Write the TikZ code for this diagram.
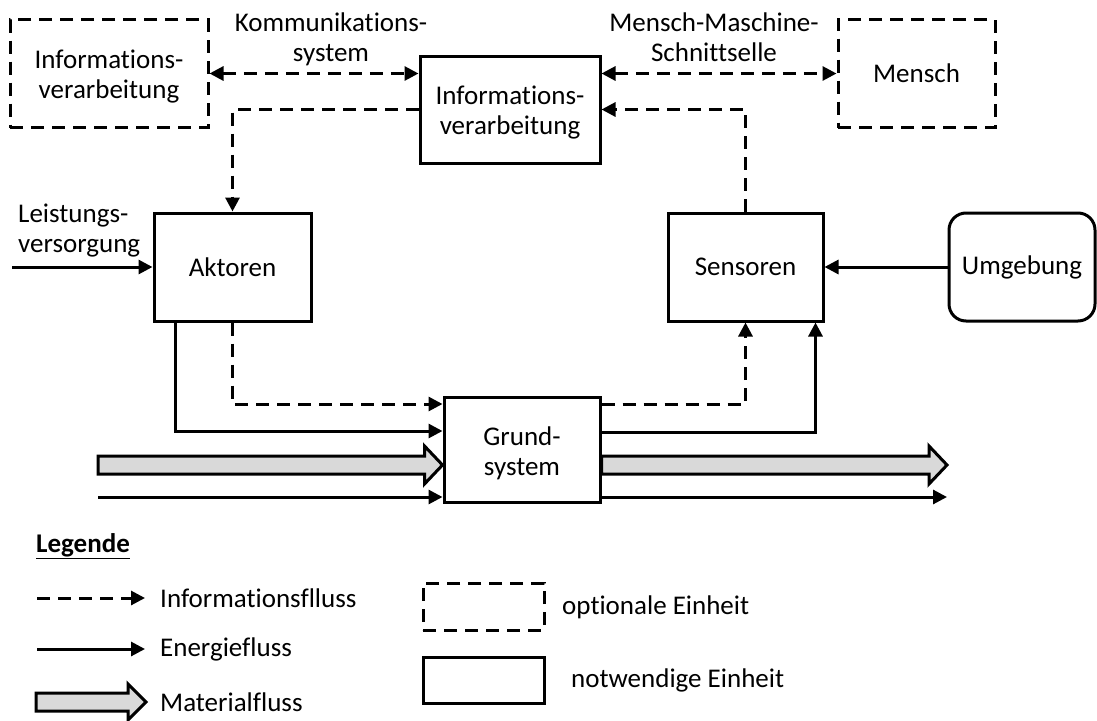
\documentclass[tikz,border=0pt]{standalone}
\usepackage{fontspec}
\setmainfont[Ligatures=NoCommon]{Carlito}
\usetikzlibrary{arrows.meta,calc}
\definecolor{matgray}{HTML}{D9D9D9}
\newcommand{\dn}{\rule{0pt}{25pt}}
\tikzset{
  lbl/.style={font=\fontsize{27}{30}\selectfont, inner sep=0pt, align=center},
  unit/.style={lbl, draw, line width=3pt, minimum width=#1, minimum height=108pt},
  unit/.default=157pt,
  optunit/.style={unit=#1, dash pattern=on 13pt off 8pt},
  optunit/.default=157pt,
  tipA/.tip={Triangle[length=14pt,width=14pt]},
  infoflow/.style={line width=3pt, dash pattern=on 13pt off 8pt, -tipA},
  energyflow/.style={line width=3pt, -tipA},
  matflow/.style={line width=3pt, draw, fill=matgray, line join=miter},
}
\newcommand{\matarrow}[3]{% start, tip, head half height
  \draw[matflow] ($(#1)+(0,-9)$) -- ($(#2)+(-18,-9)$) -- ($(#2)+(-18,-#3)$) -- (#2)
    -- ($(#2)+(-18,#3)$) -- ($(#2)+(-18,9)$) -- ($(#1)+(0,9)$) -- cycle;}
\begin{document}
\begin{tikzpicture}[x=1pt,y=-1pt]
\useasboundingbox (0,0) rectangle (1097,720);

% units
\node[optunit=198pt] (ivl) at (109,73.5) {\dn Informations-\\verarbeitung};
\node[unit=180pt, minimum height=107pt] (iv) at (510,109.5) {\dn Informations-\\verarbeitung};
\node[optunit=157pt] (mensch) at (916.5,73.5) {Mensch};
\node[unit=157pt] (akt) at (232.5,267) {Aktoren};
\node[unit=155pt] (sen) at (745.5,267) {Sensoren};
\node[unit=146pt, rounded corners=17pt] (umg) at (1022,267) {Umgebung};
\node[unit=156pt, minimum height=105pt] (grund) at (522,450) {\dn Grund-\\system};

% labels
\node[lbl] (lkom) at (331,39) {Kommunikations-\\system};
\node[lbl] (lmms) at (714,37) {Mensch-Maschine-\\Schnittselle};
\node[lbl, align=left, anchor=west] (lleist) at (18,231) {Leistungs-\\versorgung};

% information flows
\draw[infoflow, tipA-tipA] (ivl.east) -- (ivl.east -| iv.west);
\draw[infoflow, tipA-tipA] (mensch.west -| iv.east) -- (mensch.west);
\draw[infoflow] (iv.west) -| (akt.north);
\draw[infoflow] (sen.north) |- (iv.east);
\draw[infoflow] (akt.south) |- ([yshift=46pt]grund.west);
\draw[infoflow] ([yshift=46pt]grund.east) -| (sen.south);

% energy flows
\coordinate (pin) at (12,267);
\draw[energyflow] (pin) -- (akt.west);
\draw[energyflow] (umg.west) -- (sen.east);
\draw[energyflow] ([xshift=23pt]akt.south west) |- ([yshift=19pt]grund.west);
\draw[energyflow] ([yshift=18pt]grund.east) -| ([xshift=-9pt]sen.south east);
\coordinate (ein) at (98,497);
\coordinate (eout) at (947,497);
\draw[energyflow] (ein) -- (ein -| grund.west);
\draw[energyflow] (eout -| grund.east) -- (eout);

% material flows
\coordinate (min) at (98,465);
\coordinate (mout) at (947,465);
\coordinate (mtipin) at (min -| grund.west);
\coordinate (mstartout) at (mout -| grund.east);
\matarrow{min}{mtipin}{19}
\matarrow{mstartout}{mout}{19}

% legend
\node[lbl, anchor=west, font=\fontsize{27}{30}\selectfont\bfseries] (leg) at (36,546) {\underline{Legende}};
\coordinate (l1a) at (37,598); \coordinate (l1b) at (145,598);
\draw[infoflow] (l1a) -- (l1b);
\node[lbl, anchor=west] (t1) at (160,598) {Informationsflluss};
\coordinate (l2a) at (37,649); \coordinate (l2b) at (145,649);
\draw[energyflow] (l2a) -- (l2b);
\node[lbl, anchor=west] (t2) at (160,649) {Energiefluss};
\coordinate (l3a) at (36,702); \coordinate (l3b) at (146,702);
\matarrow{l3a}{l3b}{18}
\node[lbl, anchor=west] (t3) at (160,702) {Materialfluss};

\node[draw, line width=3pt, dash pattern=on 13pt off 8pt, minimum width=121pt, minimum height=47pt, inner sep=0pt] (lopt) at (483.5,606.5) {};
\node[lbl, anchor=west] (t4) at (562,607) {optionale Einheit};
\node[draw, line width=3pt, minimum width=121pt, minimum height=46pt, inner sep=0pt] (lnot) at (483.5,680) {};
\node[lbl, anchor=west] (t5) at (571,680) {notwendige Einheit};
\end{tikzpicture}
\end{document}
